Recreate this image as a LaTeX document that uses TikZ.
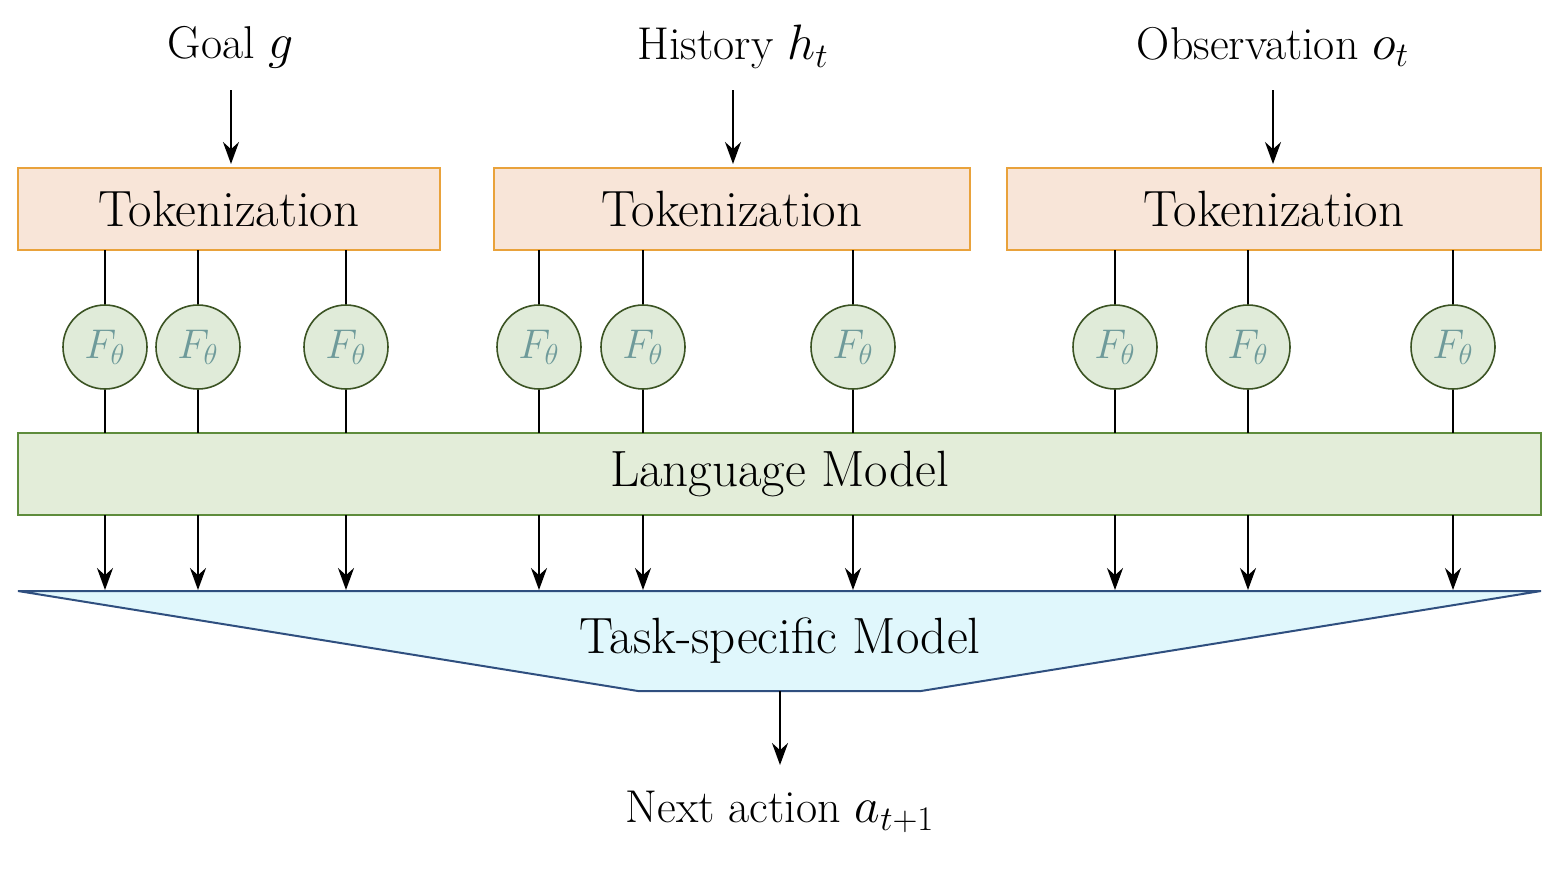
\documentclass[tikz,border=0pt]{standalone}
\usetikzlibrary{arrows.meta}
\definecolor{tokfill}{HTML}{F8E5D8}
\definecolor{tokdraw}{HTML}{E9A23B}
\definecolor{lmfill}{HTML}{E3EDD9}
\definecolor{lmdraw}{HTML}{5E8C3C}
\definecolor{ffill}{HTML}{E0EBD9}
\definecolor{fdraw}{HTML}{3B5323}
\definecolor{ftext}{HTML}{6E9A9A}
\definecolor{tsfill}{HTML}{E0F7FC}
\definecolor{tsdraw}{HTML}{2F4F7F}
\begin{document}
\begin{tikzpicture}[x=0.5pt,y=-0.5pt,
  txt/.style={font=\fontsize{23}{27}\selectfont, inner sep=0pt},
  big/.style={font=\fontsize{25.5}{30}\selectfont},
  tok/.style={draw=tokdraw, fill=tokfill, line width=1pt, minimum height=41pt, inner sep=0pt, big},
  fc/.style={circle, draw=fdraw, fill=ffill, line width=0.8pt, minimum size=42pt, inner sep=0pt, text=ftext, font=\fontsize{22}{26}\selectfont},
  arr/.style={-{Stealth[length=11pt,width=8pt]}, line width=1pt},
  ln/.style={line width=0.9pt}]
\useasboundingbox (0,0) rectangle (1566,868);
% inputs
\node[txt] (g) at (231,47) {Goal $g$};
\node[txt] (h) at (733,47) {History $h_t$};
\node[txt] (o) at (1273,47) {Observation $o_t$};
\node[tok, minimum width=211pt] (t1) at (229,209) {Tokenization};
\node[tok, minimum width=238pt] (t2) at (732,209) {Tokenization};
\node[tok, minimum width=267pt] (t3) at (1274,209) {Tokenization};
\coordinate (a1) at (231,90); \coordinate (a2) at (733,90); \coordinate (a3) at (1273,90);
\draw[arr] (a1) -- (231,164);
\draw[arr] (a2) -- (733,164);
\draw[arr] (a3) -- (1273,164);
% language model
\node[draw=lmdraw, fill=lmfill, line width=1pt, minimum width=761.5pt, minimum height=41pt, inner sep=0pt, big] (lm) at (779.5,474) {Language Model};
% task specific
\draw[draw=tsdraw, fill=tsfill, line width=1pt] (18,591) -- (1541,591) -- (921,691) -- (638,691) -- cycle;
\node[inner sep=0pt, big] (ts) at (780,641) {Task-specific Model};
\foreach \x/\t in {105/t1,198/t1,346/t1,539/t2,643/t2,853/t2,1115/t3,1248/t3,1453/t3}{
  \node[fc] (f\x) at (\x,347) {$F_\theta$};
  \draw[ln] (\x,250) -- (f\x.north);
  \draw[ln] (f\x.south) -- (\x,433);
  \draw[arr] (\x,515) -- (\x,590);
}
\draw[arr] (780,691) -- (780,765);
\node[txt] (na) at (780,812) {Next action $a_{t+1}$};
\end{tikzpicture}
\end{document}
